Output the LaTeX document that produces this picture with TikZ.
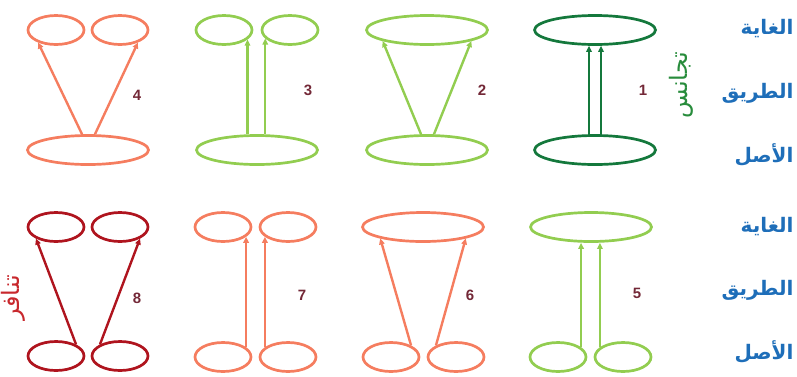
\documentclass[tikz,border=0pt]{standalone}
\usepackage{fontspec}
\setmainfont{Liberation Sans}
\newfontfamily\arabicfont[Script=Arabic]{DejaVu Sans}
\TeXXeTstate=1
\usetikzlibrary{arrows.meta,shapes.geometric,calc}
\definecolor{dgreen}{RGB}{20,120,60}
\definecolor{lgreen}{RGB}{146,205,80}
\definecolor{salmon}{RGB}{245,125,95}
\definecolor{dred}{RGB}{175,20,30}
\definecolor{numred}{RGB}{115,40,55}
\definecolor{lblue}{RGB}{30,110,185}
\definecolor{tgreen}{RGB}{40,140,60}
\definecolor{tred}{RGB}{200,40,45}
\tikzset{
  >={Triangle[length=6pt,width=5.5pt]},
  oval/.style={ellipse,draw=#1,line width=2.7pt,inner sep=0pt,minimum height=29pt},
  oval/.default=salmon,
  cell/.style={minimum width=56pt},
  wide/.style={minimum width=121pt},
  link/.style={->,line width=2.4pt,draw=#1},
  link/.default=salmon,
  num/.style={font=\bfseries\fontsize{15}{15}\selectfont,text=numred},
  side/.style={anchor=east,text=lblue,font=\arabicfont\bfseries\fontsize{20}{20}\selectfont},
  tag/.style={rotate=90,font=\arabicfont\fontsize{24}{24}\selectfont},
}

\begin{document}
\begin{tikzpicture}[x=1pt,y=-1pt]
  \useasboundingbox (0,0) rectangle (797,376);
  % top row
  \node[oval=dgreen,wide] (t1) at (595,30) {};
  \node[oval=dgreen,wide] (b1) at (595,150) {};
  \node[oval=lgreen,wide] (t2) at (427,30) {};
  \node[oval=lgreen,wide] (b2) at (427,150) {};
  \node[oval=lgreen,cell] (t3a) at (224,30) {};
  \node[oval=lgreen,cell] (t3b) at (290,30) {};
  \node[oval=lgreen,wide] (b3) at (257,150) {};
  \node[oval,cell] (t4a) at (56,30) {};
  \node[oval,cell] (t4b) at (120,30) {};
  \node[oval,wide] (b4) at (88,150) {};
  \draw[link=dgreen] ($(b1.north)+(-6,0)$) -- ($(t1.south)+(-6,0)$);
  \draw[link=dgreen] ($(b1.north)+(6,0)$) -- ($(t1.south)+(6,0)$);
  \draw[link=lgreen] ($(b2.north)+(-6,0)$) -- (t2.194);
  \draw[link=lgreen] ($(b2.north)+(7,0)$) -- (t2.346);
  \draw[link=lgreen] (t3a.338 |- b3.north) -- (t3a.338);
  \draw[link=lgreen] (t3b.199 |- b3.north) -- (t3b.199);
  \draw[link] ($(b4.north)+(-6,0)$) -- (t4a.215);
  \draw[link] ($(b4.north)+(7,0)$) -- (t4b.325);
  % bottom row
  \node[oval=lgreen,wide] (t5) at (591,227) {};
  \node[oval=lgreen,cell] (b5a) at (558,357) {};
  \node[oval=lgreen,cell] (b5b) at (623,357) {};
  \node[oval,wide] (t6) at (423,227) {};
  \node[oval,cell] (b6a) at (391,357) {};
  \node[oval,cell] (b6b) at (456,357) {};
  \node[oval,cell] (t7a) at (223,227) {};
  \node[oval,cell] (t7b) at (288,227) {};
  \node[oval,cell] (b7a) at (223,357) {};
  \node[oval,cell] (b7b) at (288,357) {};
  \node[oval=dred,cell] (t8a) at (56,227) {};
  \node[oval=dred,cell] (t8b) at (120,227) {};
  \node[oval=dred,cell] (b8a) at (56,356) {};
  \node[oval=dred,cell] (b8b) at (120,356) {};
  \draw[link=lgreen] (b5a.23) -- (b5a.23 |- t5.south);
  \draw[link=lgreen] (b5b.157) -- (b5b.157 |- t5.south);
  \draw[link] (b6a.30) -- (t6.195);
  \draw[link] (b6b.150) -- (t6.345);
  \draw[link] (b7a.23) -- (t7a.337);
  \draw[link] (b7b.157) -- (t7b.203);
  \draw[link=dred] (b8a.30) -- (t8a.210);
  \draw[link=dred] (b8b.150) -- (t8b.330);
  % numbers
  \foreach \k/\x/\y in {1/643/90,2/482/90,3/308/90,4/137/95,5/637/293,6/470/295,7/302/295,8/137/298}
    \node[num] (n\k) at (\x,\y) {\k};
  % level names
  \foreach \w/\y [count=\i] in {الغاية/29,الطريق/93,الأصل/155,الغاية/227,الطريق/290,الأصل/352}
    \node[side] (r\i) at (797,\y) {\beginR\w\endR};
  \node[tag,text=tgreen] (same) at (681,85) {\beginR تجانس\endR};
  \node[tag,text=tred] (diff) at (13,298) {\beginR تنافر\endR};
\end{tikzpicture}
\end{document}
